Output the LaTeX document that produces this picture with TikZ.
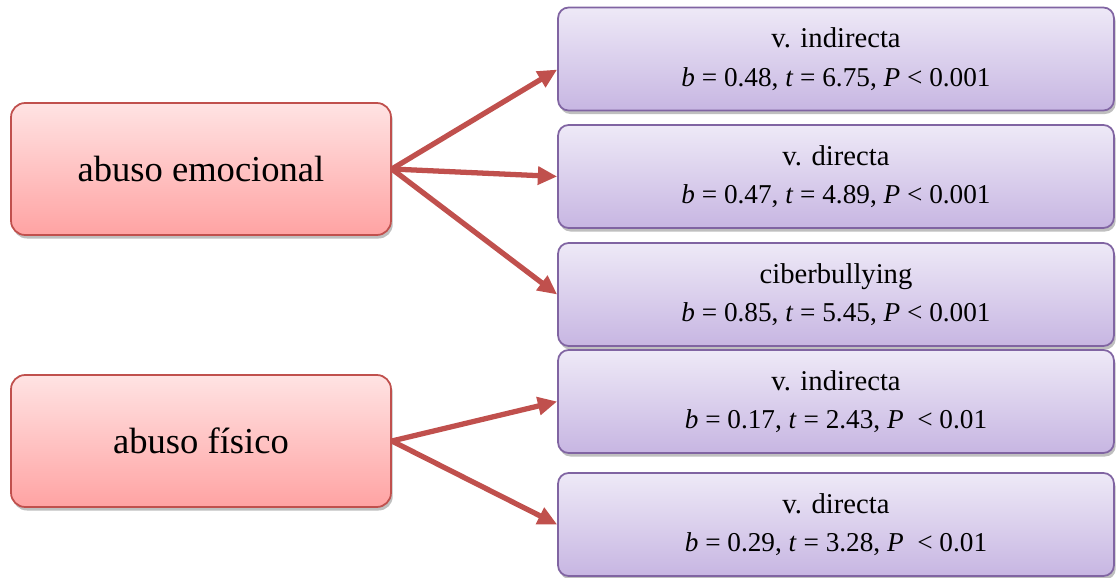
\documentclass[tikz,border=0pt]{standalone}
\usepackage{fontspec}
\setmainfont{Liberation Serif}
\usepackage{tikz}
\usetikzlibrary{arrows.meta, positioning, shadows}
\definecolor{redline}{HTML}{C0504D}
\definecolor{redtop}{HTML}{FFE3E3}
\definecolor{redbot}{HTML}{FFA3A3}
\definecolor{purpline}{HTML}{8064A2}
\definecolor{purptop}{HTML}{EEE9F7}
\definecolor{purpbot}{HTML}{C7B6E2}
\newcommand{\stats}[4][]{\textit{b} = #2, \textit{t} = #3, \textit{P}#1 < #4}
\newcommand{\outc}[1]{{\fontsize{16.3}{20}\selectfont #1}\\}
\tikzset{%
	src/.style={draw=redline, line width=1pt, rectangle, rounded corners=8pt,%
		minimum width=7.6cm, minimum height=2.64cm, top color=redtop, bottom color=redbot,%
		font=\fontsize{20.8}{24}\selectfont,%
		drop shadow={shadow xshift=1pt, shadow yshift=-2pt, opacity=0.25, fill=black}},
	eff/.style={draw=purpline, line width=1pt, rectangle, rounded corners=6pt,%
		minimum width=11.12cm, minimum height=2.06cm, top color=purptop, bottom color=purpbot,%
		align=center, inner sep=0pt, font=\fontsize{15.5}{22}\selectfont,%
		drop shadow={shadow xshift=1pt, shadow yshift=-2pt, opacity=0.25, fill=black}},
	sel/.style={-{Triangle[length=11pt, width=10pt]}, line width=3pt, draw=redline}
}
\begin{document}
\begin{tikzpicture}[x=0.02cm, y=-0.02cm]
	\useasboundingbox (0,0) rectangle (1116,578);
	\node[src] (emo) at (201,169) {abuso emocional};
	\node[src] (fis) at (201,441) {abuso físico};

	\node[eff] (e1) at (836,59) {\outc{v. indirecta}\stats{0.48}{6.75}{0.001}};
	\node[eff] (e2) at (836,176.5) {\outc{v. directa}\stats{0.47}{4.89}{0.001}};
	\node[eff] (e3) at (836,294.5) {\outc{ciberbullying}\stats{0.85}{5.45}{0.001}};
	\node[eff] (f1) at (836,401.5) {\outc{v. indirecta}\stats[~]{0.17}{2.43}{0.01}};
	\node[eff] (f2) at (836,524.5) {\outc{v. directa}\stats[~]{0.29}{3.28}{0.01}};

	\draw[sel] (emo.east) to ([yshift=-6pt]e1.west);
	\draw[sel] (emo.east) to (e2.west);
	\draw[sel] (emo.east) to (e3.west);
	\draw[sel] (fis.east) to (f1.west);
	\draw[sel] (fis.east) to (f2.west);
\end{tikzpicture}
\end{document}
